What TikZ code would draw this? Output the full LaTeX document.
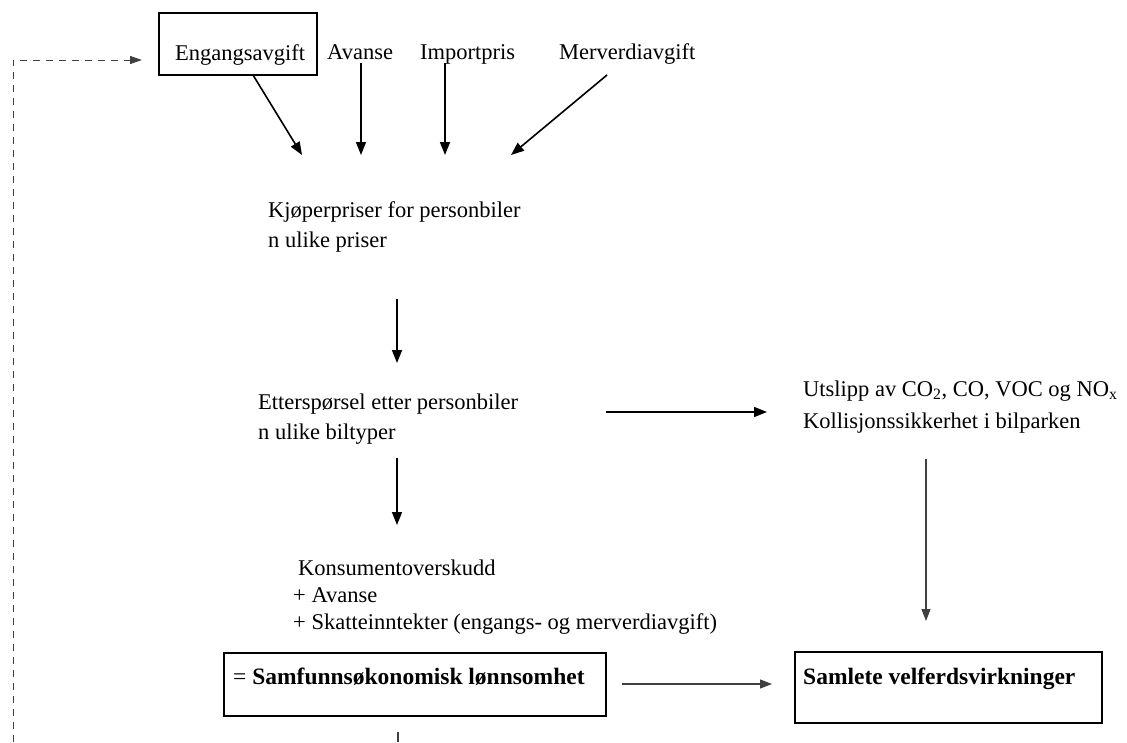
\documentclass[tikz,border=0pt]{standalone}
\usepackage{fontspec}
\setmainfont{Liberation Serif}
\usetikzlibrary{arrows.meta}
\begin{document}
\begin{tikzpicture}[x=1pt,y=-1pt,
  txt/.style={anchor=base west, inner sep=0pt, font=\fontsize{22.5}{27}\selectfont},
  boldtxt/.style={anchor=base west, inner sep=0pt, font=\fontsize{23.5}{28}\selectfont},
  boxstyle/.style={draw, line width=1.6pt, inner sep=0pt},
  arr/.style={line width=1.6pt, -{Triangle[length=13pt,width=10pt]}},
  thinarr/.style={line width=1.1pt, draw=black!75, -{Triangle[length=12pt,width=9pt]}},
  thinline/.style={line width=1.1pt, draw=black!75},
  dasharr/.style={line width=1pt, draw=black!75, dash pattern=on 7pt off 6pt, -{Triangle[length=12pt,width=8pt]}}]
\useasboundingbox (0,0) rectangle (1127,742);

% boxes
\node[boxstyle, minimum width=158pt, minimum height=62pt] (engbox) at (238,44) {};
\node[boxstyle, minimum width=382pt, minimum height=63pt] (samfbox) at (415,684.5) {};
\node[boxstyle, minimum width=307pt, minimum height=71pt] (samlbox) at (948.5,687.5) {};

% texts
\node[txt] (eng) at (175,60) {Engangsavgift};
\node[txt] (avanse) at (327,59) {Avanse};
\node[txt] (import) at (420,59) {Importpris};
\node[txt] (mva) at (559,59) {Merverdiavgift};

\node[txt] (kjop1) at (268,217) {Kjøperpriser for personbiler};
\node[txt] (kjop2) at (268,247) {n ulike priser};

\node[txt] (ett1) at (258,409) {Etterspørsel etter personbiler};
\node[txt] (ett2) at (258,439) {n ulike biltyper};

\node[txt] (uts1) at (803,396) {Utslipp av CO\textsubscript{2}, CO, VOC og NO\textsubscript{x}};
\node[txt] (uts2) at (803,428) {Kollisjonssikkerhet i bilparken};

\node[txt] (kons1) at (298,575) {Konsumentoverskudd};
\node[txt] (kons2) at (293,602) {+ Avanse};
\node[txt] (kons3) at (293,629) {+ Skatteinntekter (engangs- og merverdiavgift)};

\node[boldtxt] (samf) at (233,684) {= \textbf{Samfunnsøkonomisk lønnsomhet}};
\node[boldtxt] (saml) at (803,684) {\textbf{Samlete velferdsvirkninger}};

% connector end points
\coordinate (e1) at (253,75);   \coordinate (e2) at (302,155);
\coordinate (a1) at (361,63);   \coordinate (a2) at (361,155);
\coordinate (i1) at (445,63);   \coordinate (i2) at (445,155);
\coordinate (m1) at (607,75);   \coordinate (m2) at (511,155);
\coordinate (k1) at (397,299);  \coordinate (k2) at (397,363);
\coordinate (d1) at (397,458);  \coordinate (d2) at (397,525);
\coordinate (h1) at (606,412);  \coordinate (h2) at (767,412);
\coordinate (v1) at (926,459);  \coordinate (v2) at (926,621);
\coordinate (s1) at (622,684);  \coordinate (s2) at (772,684);
\coordinate (t1) at (398,732);  \coordinate (t2) at (398,742);
\coordinate (q0) at (13,742);   \coordinate (q1) at (13,60);  \coordinate (q2) at (142,60);

% connectors
\draw[arr] (e1) -- (e2);
\draw[arr] (a1) -- (a2);
\draw[arr] (i1) -- (i2);
\draw[arr] (m1) -- (m2);
\draw[arr] (k1) -- (k2);
\draw[arr] (d1) -- (d2);
\draw[arr] (h1) -- (h2);
\draw[thinarr] (v1) -- (v2);
\draw[thinarr] (s1) -- (s2);
\draw[thinline] (t1) -- (t2);
\draw[dasharr] (q0) -- (q1) -- (q2);
\end{tikzpicture}
\end{document}
